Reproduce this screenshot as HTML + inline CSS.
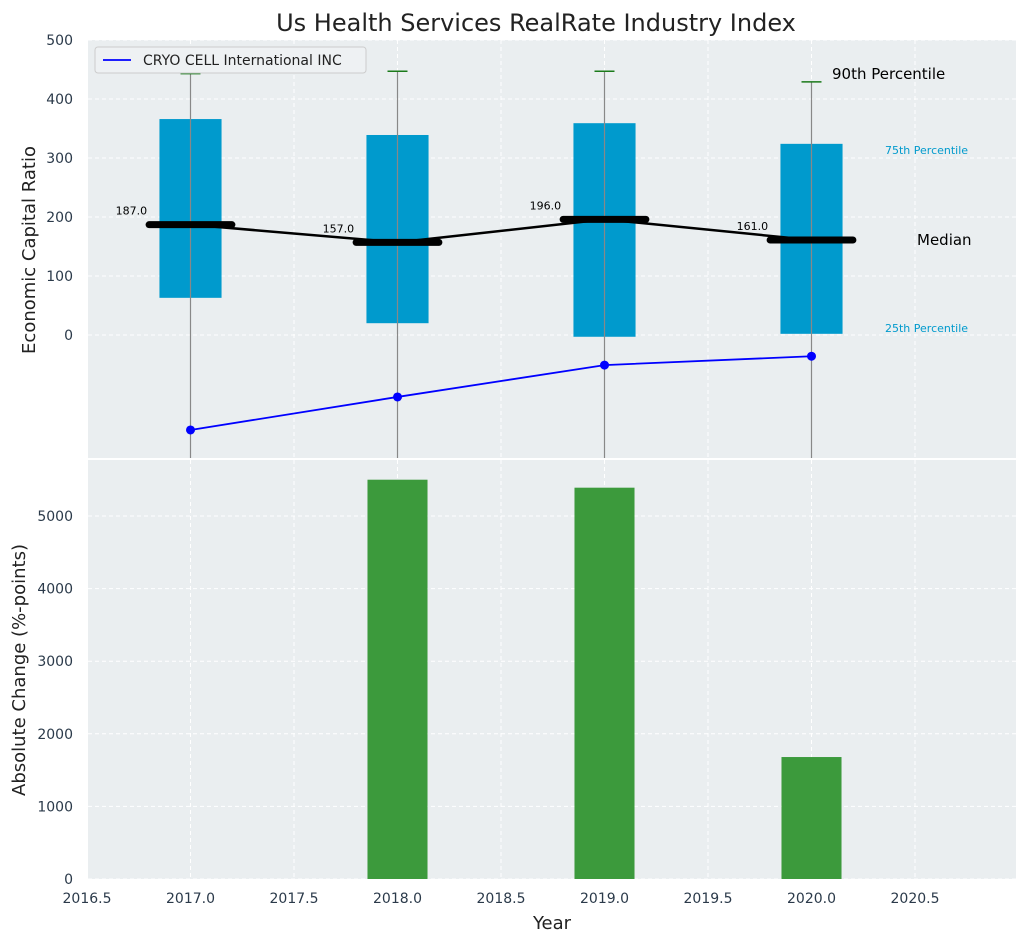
<!DOCTYPE html>
<html><head><meta charset="utf-8"><style>
body{margin:0;background:#fff;font-family:"Liberation Sans","DejaVu Sans",sans-serif}
svg text{font-family:"DejaVu Sans","Liberation Sans",sans-serif}
</style></head><body>
<svg id="c" width="1026" height="942" xmlns="http://www.w3.org/2000/svg"></svg>
<script>
const years=[2017,2018,2019,2020];
const q25=[63,20,-3,2];
const q75=[366,339,359,324];
const p90=[443,447,447,429];
const medians=[187,157,196,161];
const company=[-161,-105,-51,-36];
const changes=[0,5500,5390,1680];
const xTicks=[2016.5,2017,2017.5,2018,2018.5,2019,2019.5,2020,2020.5];
const yTopTicks=[0,100,200,300,400,500];
const yBotTicks=[0,1000,2000,3000,4000,5000];

const NS="http://www.w3.org/2000/svg";
const svg=document.getElementById('c');
function el(t,a,txt){const e=document.createElementNS(NS,t);for(const k in a)e.setAttribute(k,a[k]);if(txt!==undefined)e.textContent=txt;svg.appendChild(e);return e;}
const L=88,R=1016;
const x=v=>87+(v-2016.5)*207;
const yT=v=>335-v*0.59;
const yB=v=>879-v*0.0726;
const T0=40,T1=458,B0=460,B1=879;

let e;
e=el('rect',{x:L,y:T0,width:R-L,height:T1-T0,fill:'#eaeef0'});

e=el('rect',{x:L,y:B0,width:R-L,height:B1-B0,fill:'#eaeef0'});


xTicks.forEach(t=>{
  e=el('line',{x1:x(t),x2:x(t),y1:T0,y2:T1,stroke:'#fff','stroke-dasharray':'4,3','stroke-width':1});
  
  e=el('line',{x1:x(t),x2:x(t),y1:B0,y2:B1,stroke:'#fff','stroke-dasharray':'4,3','stroke-width':1});
  
  e=el('text',{x:x(t),y:903,'font-size':14,fill:'#2b3a4a','text-anchor':'middle'},t.toFixed(1));
  
});
yTopTicks.forEach(t=>{
  e=el('line',{x1:L,x2:R,y1:yT(t),y2:yT(t),stroke:'#fff','stroke-dasharray':'4,3'});
  
  e=el('text',{x:73,y:yT(t)+5,'font-size':14,fill:'#2b3a4a','text-anchor':'end'},t);
  
});
yBotTicks.forEach(t=>{
  e=el('line',{x1:L,x2:R,y1:yB(t),y2:yB(t),stroke:'#fff','stroke-dasharray':'4,3'});
  
  e=el('text',{x:73,y:yB(t)+5,'font-size':14,fill:'#2b3a4a','text-anchor':'end'},t);
  
});

years.forEach((yr,i)=>{
  const bw=0.3*207;
  e=el('rect',{x:x(yr)-bw/2,y:yT(q75[i]),width:bw,height:yT(q25[i])-yT(q75[i]),fill:'#009acd'});
  
  e=el('line',{x1:x(yr),x2:x(yr),y1:yT(p90[i]),y2:T1,stroke:'#888','stroke-width':1.2});
  
  e=el('line',{x1:x(yr)-10,x2:x(yr)+10,y1:yT(p90[i]),y2:yT(p90[i]),stroke:'#1a7a1a','stroke-width':1.5});
  
});
let pts=years.map((yr,i)=>x(yr)+','+yT(medians[i])).join(' ');
e=el('polyline',{points:pts,fill:'none',stroke:'#000','stroke-width':2.5});

years.forEach((yr,i)=>{
  e=el('line',{x1:x(yr-0.2),x2:x(yr+0.2),y1:yT(medians[i]),y2:yT(medians[i]),stroke:'#000','stroke-width':7,'stroke-linecap':'round'});
  
  e=el('text',{x:x(yr-0.2)-2,y:yT(medians[i])-10,'font-size':11,fill:'#000','text-anchor':'end'},medians[i].toFixed(1));
  
});
pts=years.map((yr,i)=>x(yr)+','+yT(company[i])).join(' ');
e=el('polyline',{points:pts,fill:'none',stroke:'#0000ff','stroke-width':1.8});

years.forEach((yr,i)=>{
  e=el('circle',{cx:x(yr),cy:yT(company[i]),r:4.5,fill:'#0000ff'});
  
});
[['90th Percentile',832,79,15,'#000'],['75th Percentile',885,154,11,'#009acd'],['Median',917,245,15,'#000'],['25th Percentile',885,332,11,'#009acd']].forEach(a=>{
  e=el('text',{x:a[1],y:a[2],'font-size':a[3],fill:a[4]},a[0]);
  
});
e=el('rect',{x:95,y:47,width:271,height:26,fill:'#eef1f3',stroke:'#ccc',rx:3});

e=el('line',{x1:103,x2:131,y1:60,y2:60,stroke:'#0000ff','stroke-width':1.8});

e=el('text',{x:143,y:65,'font-size':14,fill:'#222'},'CRYO CELL International INC');


years.forEach((yr,i)=>{
  if(!changes[i])return;
  const bw=0.29*207;
  e=el('rect',{x:x(yr)-bw/2,y:yB(changes[i]),width:bw,height:yB(0)-yB(changes[i]),fill:'#3c9a3c'});
  
});

e=el('text',{x:536,y:31,'font-size':24,fill:'#222','text-anchor':'middle'},'Us Health Services RealRate Industry Index');

e=el('text',{x:0,y:0,'font-size':18,fill:'#222','text-anchor':'middle',transform:'translate(35,250) rotate(-90)'},'Economic Capital Ratio');

e=el('text',{x:0,y:0,'font-size':18,fill:'#222','text-anchor':'middle',transform:'translate(25,670) rotate(-90)'},'Absolute Change (%-points)');

e=el('text',{x:552,y:929,'font-size':18,fill:'#222','text-anchor':'middle'},'Year');

</script>
</body></html>
